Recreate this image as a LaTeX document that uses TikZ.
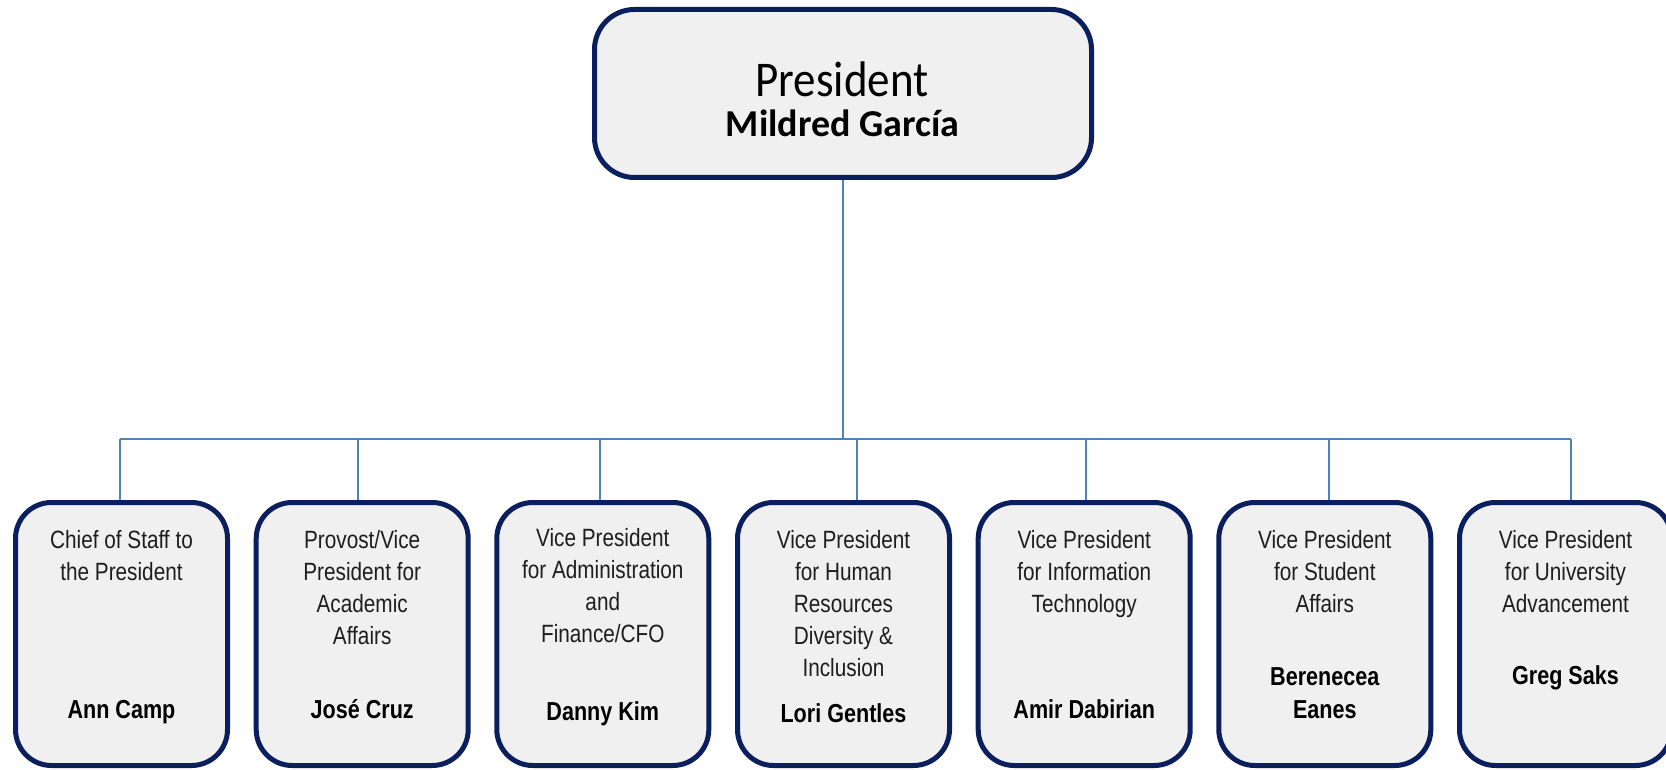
\documentclass[tikz,border=0pt]{standalone}
\usepackage{fontspec}
\newfontfamily\narrowf[FakeStretch=0.83]{Liberation Sans}
\newfontfamily\calf{Carlito}
\newfontfamily\calnarrow[FakeStretch=0.9]{Carlito}
\definecolor{navy}{HTML}{0B1F5E}
\definecolor{boxfill}{HTML}{F0F0F0}
\definecolor{linkc}{HTML}{4F81BD}
\definecolor{txt}{HTML}{1E1E1E}
\begin{document}
\begin{tikzpicture}[x=1pt,y=-1pt,
  box/.style={draw=navy,line width=5pt,fill=boxfill,rounded corners=36pt,inner sep=0pt,minimum width=212pt,minimum height=263pt},
  topbox/.style={box,rounded corners=40pt,minimum width=497pt,minimum height=168pt},
  link/.style={draw=linkc,line width=2.5pt},
  title/.style={font=\narrowf\fontsize{25}{32}\selectfont,text=txt,align=center,inner sep=0pt,anchor=north,execute at begin node={\rule{0pt}{20pt}}},
  who/.style={font=\narrowf\bfseries\fontsize{26}{33}\selectfont,text=black,align=center,inner sep=0pt,anchor=base},
]
\clip (0,0) rectangle (1666,770);
\fill[white] (0,0) rectangle (1666,770);

% President
\node[topbox] (pres) at (843,93.5) {};
\node[font=\calnarrow\fontsize{50}{54}\selectfont,anchor=base,inner sep=0pt] (prest) at (842,97) {President};
\node[font=\calf\bfseries\fontsize{38}{42}\selectfont,anchor=base,inner sep=0pt] (presn) at (842.5,137) {Mildred García};

% Boxes
\node[box] (b1) at (121.5,634) {};
\node[box] (b2) at (362.2,634) {};
\node[box] (b3) at (602.8,634) {};
\node[box] (b4) at (843.5,634) {};
\node[box] (b5) at (1084.2,634) {};
\node[box] (b6) at (1324.8,634) {};
\node[box] (b7) at (1565.5,634) {};

% Connectors
\coordinate (busL) at (120,439);
\coordinate (busR) at (1571,439);
\draw[link] (busL) -- (busR);
\draw[link] (pres.south) -- (pres.south |- busL);
\draw[link] ([xshift=-1.5pt]b1.north) -- ([xshift=-1.5pt]b1.north |- busL);
\draw[link] ([xshift=-4.2pt]b2.north) -- ([xshift=-4.2pt]b2.north |- busL);
\draw[link] ([xshift=-2.8pt]b3.north) -- ([xshift=-2.8pt]b3.north |- busL);
\draw[link] ([xshift=13.5pt]b4.north) -- ([xshift=13.5pt]b4.north |- busL);
\draw[link] ([xshift=1.8pt]b5.north) -- ([xshift=1.8pt]b5.north |- busL);
\draw[link] ([xshift=4.2pt]b6.north) -- ([xshift=4.2pt]b6.north |- busL);
\draw[link] ([xshift=5.5pt]b7.north) -- ([xshift=5.5pt]b7.north |- busL);

% Titles
\node[title] (t1) at (121.5,530) {Chief of Staff to\\the President};
\node[title] (t2) at (362.2,530) {Provost/Vice\\President for\\Academic\\Affairs};
\node[title] (t3) at (602.8,528) {Vice President\\for Administration\\and\\Finance/CFO};
\node[title] (t4) at (843.5,530) {Vice President\\for Human\\Resources\\Diversity \&\\Inclusion};
\node[title] (t5) at (1084.2,530) {Vice President\\for Information\\Technology};
\node[title] (t6) at (1324.8,530) {Vice President\\for Student\\Affairs};
\node[title] (t7) at (1565.5,530) {Vice President\\for University\\Advancement};

% Names
\node[who] (n1) at (121.5,718) {Ann Camp};
\node[who] (n2) at (362.2,718) {José Cruz};
\node[who] (n3) at (602.8,720) {Danny Kim};
\node[who] (n4) at (843.5,722) {Lori Gentles};
\node[who] (n5) at (1084.2,718) {Amir Dabirian};
\node[who] (n6a) at (1324.8,685) {Berenecea};
\node[who] (n6b) at (1324.8,718) {Eanes};
\node[who] (n7) at (1565.5,684) {Greg Saks};
\end{tikzpicture}
\end{document}
